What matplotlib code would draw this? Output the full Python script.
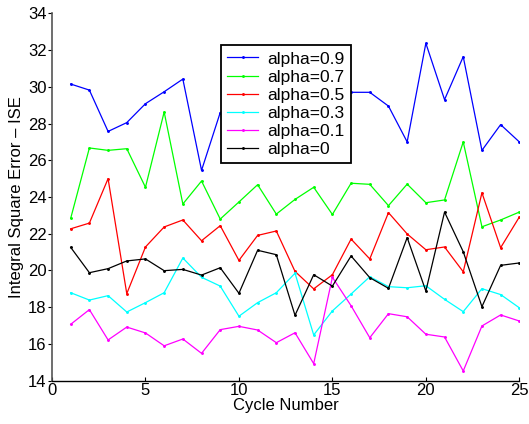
import matplotlib
matplotlib.use('Agg')
from matplotlib import pyplot as plt

plt.rcParams['font.family'] = ['Liberation Sans', 'DejaVu Sans']

cycles = list(range(1, 26))

ise_09 = [30.15, 29.82, 27.57, 28.05, 29.08, 29.73, 30.42, 25.45, 28.6, 29.2,
          28.8, 29.5, 28.4, 29.0, 29.6, 29.7, 29.7, 28.95, 27.0, 32.37,
          29.3, 31.64, 26.54, 27.94, 27.0]
ise_07 = [22.84, 26.67, 26.54, 26.63, 24.53, 28.63, 23.62, 24.87, 22.8, 23.73,
          24.67, 23.07, 23.87, 24.53, 23.05, 24.75, 24.69, 23.53, 24.7, 23.69,
          23.84, 27.0, 22.38, 22.75, 23.18]
ise_05 = [22.27, 22.58, 25.0, 18.74, 21.28, 22.37, 22.75, 21.62, 22.44, 20.55,
          21.91, 22.15, 19.95, 19.0, 19.77, 21.71, 20.63, 23.15, 21.99, 21.13,
          21.28, 19.93, 24.23, 21.24, 22.91]
ise_03 = [18.79, 18.39, 18.63, 17.74, 18.25, 18.79, 20.68, 19.63, 19.15, 17.51,
          18.25, 18.79, 19.85, 16.49, 17.8, 18.72, 19.66, 19.12, 19.06, 19.17,
          18.43, 17.76, 19.01, 18.69, 17.97]
ise_01 = [17.07, 17.87, 16.22, 16.92, 16.6, 15.9, 16.27, 15.49, 16.78, 16.96,
          16.76, 16.07, 16.61, 14.93, 19.63, 18.08, 16.34, 17.65, 17.48, 16.53,
          16.38, 14.53, 16.98, 17.58, 17.25]
ise_00 = [21.26, 19.88, 20.1, 20.52, 20.63, 19.99, 20.06, 19.75, 20.15, 18.76,
          21.1, 20.86, 17.56, 19.77, 19.15, 20.79, 19.61, 19.03, 21.79, 18.88,
          23.18, 21.02, 18.03, 20.28, 20.41]

series = [ise_09, ise_07, ise_05, ise_03, ise_01, ise_00]
labels = ['alpha=0.9', 'alpha=0.7', 'alpha=0.5', 'alpha=0.3', 'alpha=0.1', 'alpha=0']
colors = ['#0000ff', '#00ff00', '#ff0000', '#00ffff', '#ff00ff', '#000000']

fig = plt.figure(figsize=(5.29, 4.24), dpi=100)
ax = fig.add_axes([0.0983, 0.1021, 0.8834, 0.8665])

for ys, lab, c in zip(series, labels, colors):
    ax.plot(cycles, ys, color=c, lw=0.9, marker='.', ms=2.2, label=lab)

ax.set_xlim(0, 25)
ax.set_ylim(14, 34)
ax.set_xticks([0, 5, 10, 15, 20, 25])
ax.set_yticks(range(14, 35, 2))
ax.tick_params(axis='both', labelsize=12, length=3, width=0.8, colors='black')
ax.tick_params(axis='x', direction='in', pad=2)
ax.tick_params(axis='y', direction='out', pad=1)

ax.spines['top'].set_visible(False)
ax.spines['right'].set_visible(False)
ax.spines['left'].set_color('#555555')
ax.spines['left'].set_linewidth(1.2)
ax.spines['bottom'].set_linewidth(1.0)

ax.set_xlabel('Cycle Number', fontsize=12, labelpad=0)
ax.set_ylabel('Integral Square Error – ISE', fontsize=12, labelpad=3)

leg = ax.legend(loc='upper left', bbox_to_anchor=(221.3 / 529, 1 - 45.3 / 424),
                bbox_transform=fig.transFigure, borderaxespad=0, fontsize=12.5,
                fancybox=False, framealpha=1, edgecolor='black',
                handlelength=1.75, handletextpad=0.55, labelspacing=0.17,
                borderpad=0.35)
leg.get_frame().set_linewidth(1.3)

plt.savefig('out.png', dpi=100)
